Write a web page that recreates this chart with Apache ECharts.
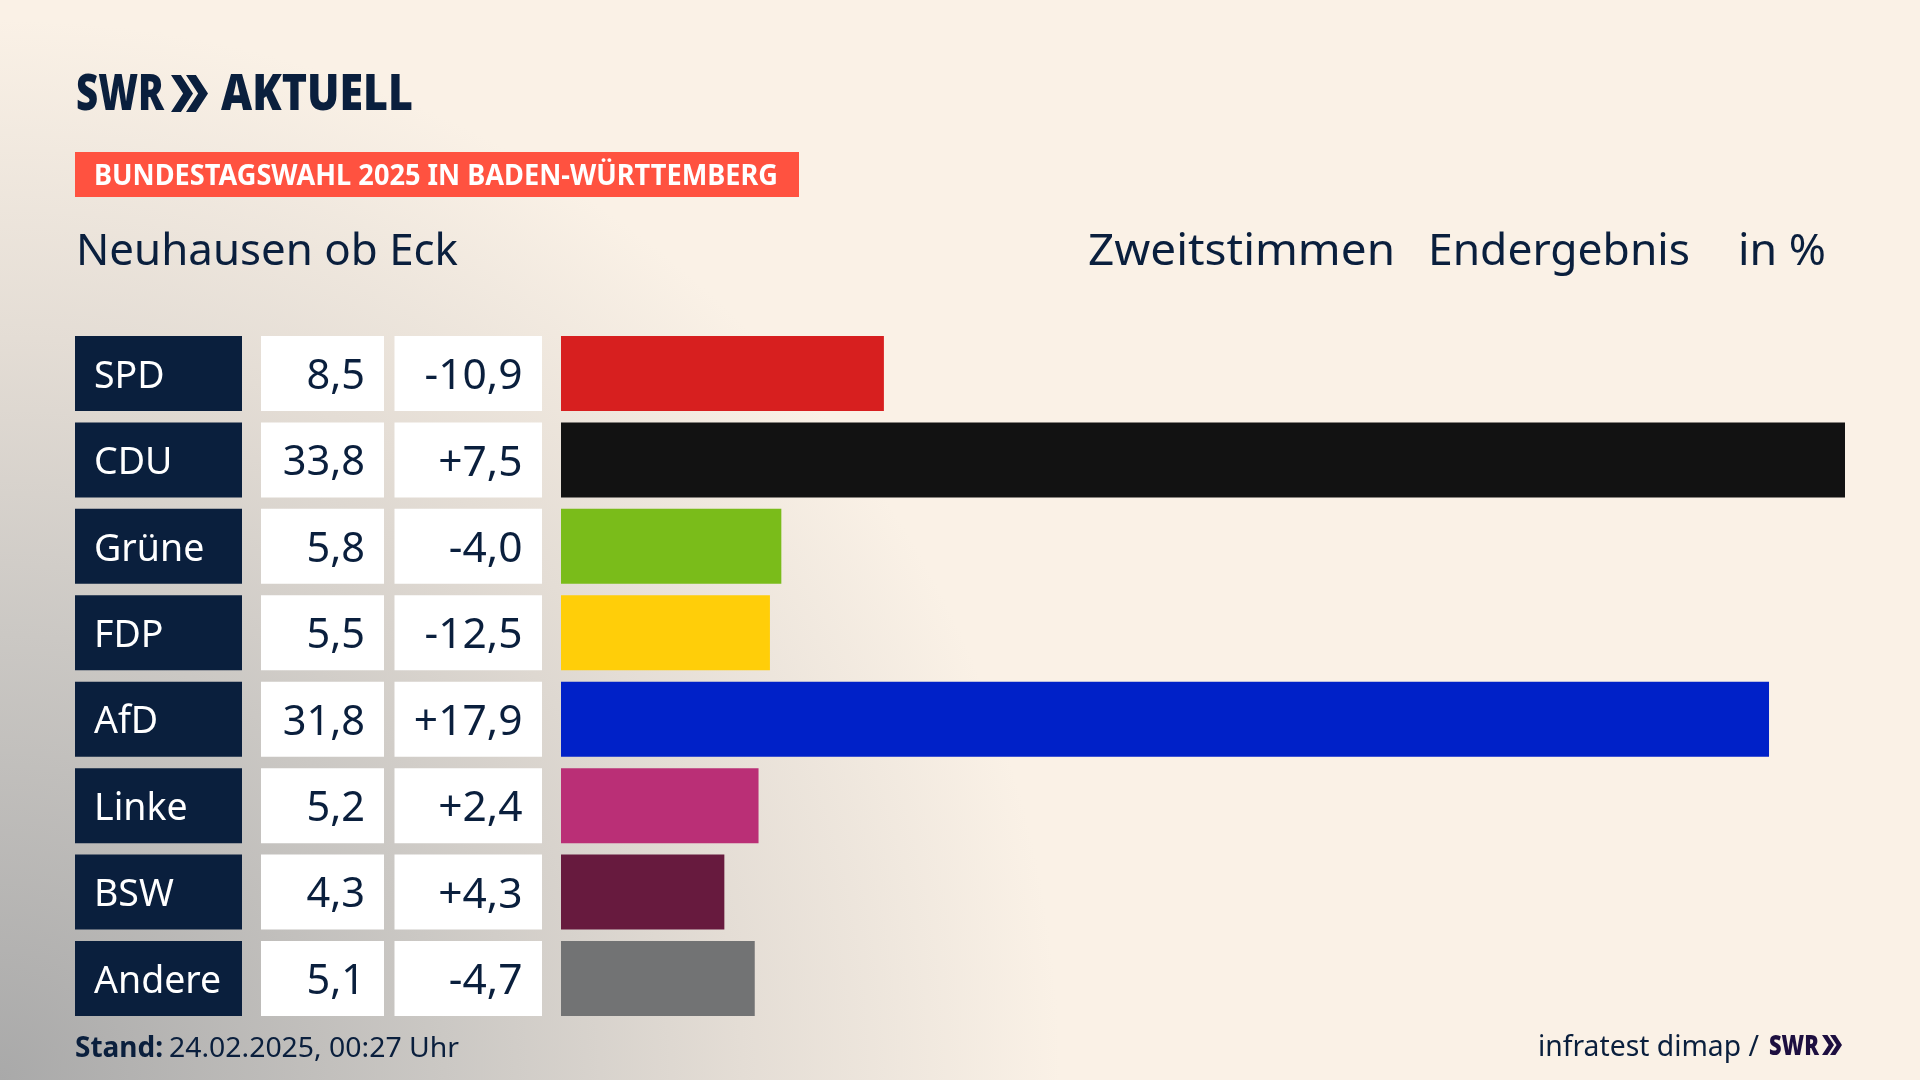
<!DOCTYPE html>
<html>
<head>
<meta charset="utf-8">
<title>Bundestagswahl 2025 - Neuhausen ob Eck</title>
<script src="https://cdn.jsdelivr.net/npm/echarts@6/dist/echarts.min.js"></script>
<style>
  html, body { margin: 0; padding: 0; background: #faf1e6; }
  #main { width: 1920px; height: 1080px; }
</style>
</head>
<body>
<div id="main"></div>
<script>
const parties = ['SPD', 'CDU', 'Grüne', 'FDP', 'AfD', 'Linke', 'BSW', 'Andere'];
const shares = [8.5, 33.8, 5.8, 5.5, 31.8, 5.2, 4.3, 5.1];
const diffs = [-10.9, 7.5, -4.0, -12.5, 17.9, 2.4, 4.3, -4.7];
const barColors = ['#d71f1f', '#121212', '#7abc1a', '#ffce09', '#0021c8', '#ba2f76', '#671a3e', '#727374'];

const NAVY = '#0a1f3d';
const FONT = '"Noto Sans", sans-serif';

const ctx = document.createElement('canvas').getContext('2d');

// squeezes a text to the given width, the SWR font is narrower than anything installed
function fitText(str, x, y, width, size, weight, color) {
    ctx.font = weight + ' ' + size + 'px "Noto Sans"';
    const w = ctx.measureText(str).width;
    return {
        type: 'text',
        x: x,
        y: y,
        scaleX: width / w,
        silent: true,
        style: {
            text: str,
            fill: color,
            font: weight + ' ' + size + 'px ' + FONT,
            textAlign: 'left',
            textVerticalAlign: 'middle'
        }
    };
}

function chevrons(x, y, h, w, gap, color) {
    const one = (x0) => ({
        type: 'polygon',
        silent: true,
        shape: {
            points: [[x0, y], [x0 + w * 0.45, y], [x0 + w, y + h / 2], [x0 + w * 0.45, y + h], [x0, y + h], [x0 + w * 0.55, y + h / 2]]
        },
        style: { fill: color }
    });
    return [one(x), one(x + gap)];
}

const fmt = (v) => v.toFixed(1).replace('.', ',');
const fmtDiff = (v) => (v > 0 ? '+' : '') + fmt(v);

function boxAxis(names, offset, boxWidth, align, pad, size, bg, color) {
    return {
        type: 'category',
        inverse: true,
        position: 'left',
        offset: offset,
        data: names,
        axisLine: { show: false },
        axisTick: { show: false },
        splitLine: { show: false },
        axisLabel: {
            interval: 0,
            margin: 0,
            align: align,
            verticalAlign: 'middle',
            width: boxWidth - pad,
            height: 75,
            padding: align === 'left' ? [0, 0, 0, pad] : [0, pad, 0, 0],
            overflow: 'none',
            backgroundColor: bg,
            formatter: (v) => '{t|' + v + '}',
            rich: {
                // top padding pushes the text a little below the middle of the box
                t: { lineHeight: 75, padding: [7, 0, 0, 0], color: color, fontFamily: FONT, fontSize: size }
            }
        }
    };
}

const chart = echarts.init(document.getElementById('main'), null, { renderer: 'canvas' });

chart.setOption({
    animation: false,
    grid: { left: 561, width: 1284, top: 330.3, height: 691.4, containLabel: false },
    xAxis: { type: 'value', min: 0, max: 33.8, show: false },
    yAxis: [
        boxAxis(parties, 486, 167, 'left', 19, 37.5, NAVY, '#fff'),
        boxAxis(shares.map(fmt), 177, 123, 'right', 19, 41.5, '#fff', NAVY),
        boxAxis(diffs.map(fmtDiff), 19, 147.5, 'right', 19.5, 42.5, '#fff', NAVY)
    ],
    graphic: {
        elements: [
            {
                type: 'rect',
                z: -10,
                silent: true,
                shape: { x: 0, y: 0, width: 1920, height: 1080 },
                style: {
                    fill: {
                        type: 'radial',
                        global: true,
                        x: 0,
                        y: 1080,
                        r: 1060,
                        colorStops: [
                            { offset: 0, color: '#a9a9a9' },
                            { offset: 0.42, color: '#cbc8c4' },
                            { offset: 0.7, color: '#e4ddd5' },
                            { offset: 1, color: '#faf1e6' }
                        ]
                    }
                }
            },
            // header
            fitText('SWR', 76, 96, 88, 50, '900', NAVY),
            ...chevrons(171, 75, 37, 22, 15, NAVY),
            fitText('AKTUELL', 221, 96, 192, 50, '900', NAVY),
            {
                type: 'rect',
                silent: true,
                shape: { x: 75, y: 152, width: 724, height: 45 },
                style: { fill: '#ff5240' }
            },
            fitText('BUNDESTAGSWAHL 2025 IN BADEN-WÜRTTEMBERG', 94, 177, 684, 28, 'bold', '#fff'),
            fitText('Neuhausen ob Eck', 76, 252, 382, 44, 'normal', NAVY),
            fitText('Zweitstimmen', 1088, 252, 307, 44, 'normal', NAVY),
            fitText('Endergebnis', 1428, 252, 262, 44, 'normal', NAVY),
            fitText('in %', 1738, 252, 88, 44, 'normal', NAVY),
            // footer
            fitText('Stand:', 75, 1049, 88, 28, 'bold', NAVY),
            fitText('24.02.2025, 00:27 Uhr', 169, 1049, 290, 28, 'normal', NAVY),
            fitText('infratest dimap /', 1538, 1048, 221, 29, 'normal', NAVY),
            fitText('SWR', 1769, 1047, 50, 28, '900', '#1d0f40'),
            ...chevrons(1822, 1035, 20, 12, 8, '#1d0f40')
        ]
    },
    series: [
        {
            type: 'bar',
            silent: true,
            yAxisIndex: 0,
            barWidth: 75,
            data: shares.map((v, i) => ({ value: v, itemStyle: { color: barColors[i] } }))
        }
    ]
});
</script>
</body>
</html>
